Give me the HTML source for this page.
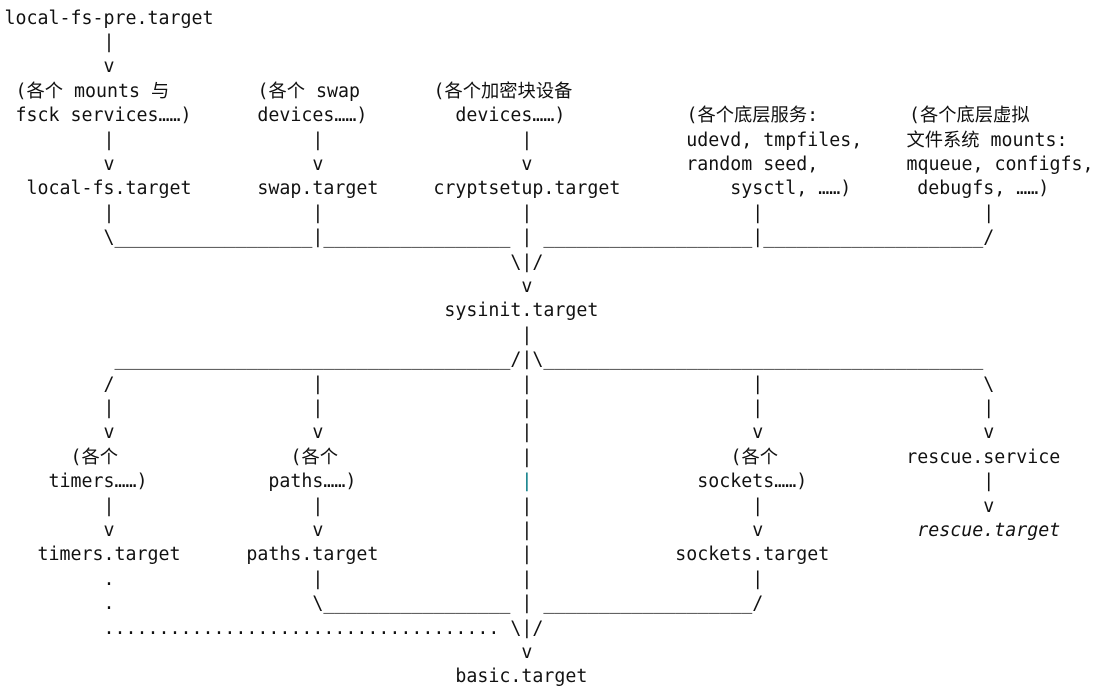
<!DOCTYPE html>
<html><head><meta charset="utf-8"><style>
html,body{margin:0;padding:0;background:#fff;width:1101px;height:686px;overflow:hidden;}
pre,.c{font-family:"DejaVu Sans Mono","Noto Sans CJK SC",monospace;font-size:18.27px;line-height:24.4px;color:#111;margin:0;}
pre{position:absolute;left:4.5px;top:6.5px;white-space:pre;}
.c{position:absolute;white-space:pre;}
.t{color:#0a7c86;}
i{font-style:italic;}
</style></head><body>
<pre>local-fs-pre.target
         |
         v

 fsck services……)      devices……)        devices……)
         |                  |                  |              udevd, tmpfiles,
         v                  v                  v              random seed,
  local-fs.target      swap.target     cryptsetup.target          sysctl, ……)      debugfs, ……)
         |                  |                  |                    |                    |
         \__________________|_________________ | ___________________|____________________/
                                              \|/
                                               v
                                        sysinit.target
                                               |
          ____________________________________/|\________________________________________
         /                  |                  |                    |                    \
         |                  |                  |                    |                    |
         v                  v                  |                    v                    v
                                               |                                  rescue.service
    timers……)           paths……)               <span class="t">|</span>               sockets……)                |
         |                  |                  |                    |                    v
         v                  v                  |                    v              <i>rescue.target</i>
   timers.target      paths.target             |             sockets.target
         .                  |                  |                    |
         .                  \_________________ | ___________________/
         .................................... \|/
                                               v
                                         basic.target</pre>
<span class="c" style="left:15.5px;top:80px">(各个 mounts 与</span>
<span class="c" style="left:257.5px;top:80px">(各个 swap</span>
<span class="c" style="left:433.5px;top:80px">(各个加密块设备</span>
<span class="c" style="left:686.5px;top:104.4px">(各个底层服务:</span>
<span class="c" style="left:909px;top:104.4px">(各个底层虚拟</span>
<span class="c" style="left:906.5px;top:128.8px">文件系统 mounts:</span>
<span class="c" style="left:906.5px;top:153.2px">mqueue, configfs,</span>
<span class="c" style="left:70.5px;top:446px">(各个</span>
<span class="c" style="left:290.5px;top:446px">(各个</span>
<span class="c" style="left:730.5px;top:446px">(各个</span>
</body></html>
